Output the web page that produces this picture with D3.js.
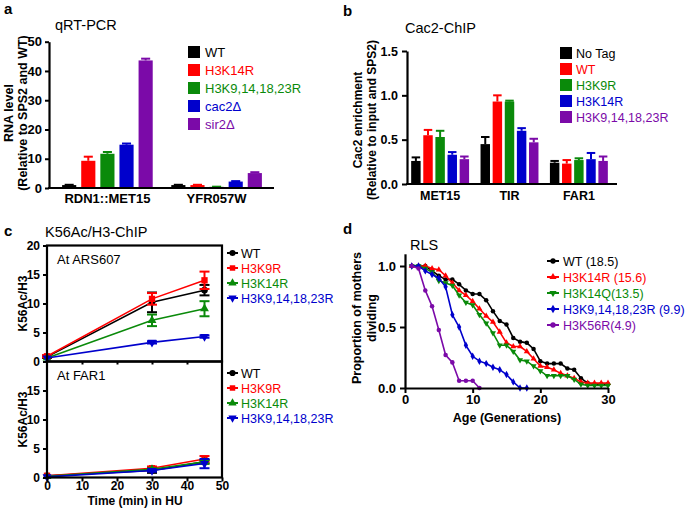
<!DOCTYPE html>
<html><head><meta charset="utf-8">
<script src="https://cdn.jsdelivr.net/npm/d3@7"></script>
<style>
html,body{margin:0;padding:0;background:#fff;}
svg{display:block;font-family:"Liberation Sans",Arial,sans-serif;}
</style></head>
<body>
<svg id="fig" width="685" height="508"></svg>
<script>
// ---------- DATA ----------
// Panel a: qRT-PCR
const aCategories = ["RDN1::MET15", "YFR057W"];
const aSeries = ["WT", "H3K14R", "H3K9,14,18,23R", "cac2\u0394", "sir2\u0394"];
const aValues = [[1.0, 9.3, 11.7, 14.8, 43.6], [1.0, 1.0, 0.4, 2.2, 5.1]];
const aErrors = [[0.1, 1.4, 0.6, 0.4, 0.6], [0.1, 0.1, 0.05, 0.15, 0.3]];
const aTicks = [0, 10, 20, 30, 40, 50];

// Panel b: Cac2-ChIP
const bCategories = ["MET15", "TIR", "FAR1"];
const bSeries = ["No Tag", "WT", "H3K9R", "H3K14R", "H3K9,14,18,23R"];
const bValues = [[0.26, 0.55, 0.53, 0.33, 0.28], [0.45, 0.93, 0.93, 0.60, 0.47], [0.24, 0.23, 0.27, 0.28, 0.26]];
const bErrors = [[0.04, 0.06, 0.07, 0.03, 0.03], [0.08, 0.07, 0.01, 0.03, 0.04], [0.02, 0.04, 0.02, 0.07, 0.05]];
const bTicks = ["0.0", "0.5", "1.0", "1.5"];

// Panel c: K56Ac/H3-ChIP
const cTimes = [0, 30, 45];
const cSeries = ["WT", "H3K9R", "H3K14R", "H3K9,14,18,23R"];
const cARS607 = [[0.8, 10.2, 12.3], [0.9, 10.8, 14.0], [0.6, 7.1, 9.1], [0.6, 3.3, 4.3]];
const cARS607Err = [[0.2, 1.7, 0.9], [0.2, 1.0, 1.5], [0.1, 1.0, 1.3], [0.1, 0.2, 0.2]];
const cFAR1 = [[0.3, 1.2, 2.7], [0.3, 1.6, 3.2], [0.2, 1.4, 2.7], [0.1, 1.2, 2.4]];
const cFAR1Err = [[0.1, 0.4, 0.3], [0.1, 0.3, 0.5], [0.1, 0.2, 0.3], [0.1, 0.2, 0.8]];
const cYTicks = [0, 5, 10, 15, 20];
const cXTicks = [0, 10, 20, 30, 40, 50];

// Panel d: RLS
const dSeries = ["WT (18.5)", "H3K14R (15.6)", "H3K14Q(13.5)", "H3K9,14,18,23R (9.9)", "H3K56R(4.9)"];
const dWT = [1.0,1.0,1.0,0.96,0.92,0.89,0.89,0.85,0.80,0.77,0.77,0.72,0.63,0.55,0.52,0.41,0.38,0.37,0.32,0.22,0.20,0.20,0.20,0.16,0.15,0.08,0.04,0.03,0.03,0.03];
const dK14R = [1.0,1.0,1.0,0.98,0.97,0.92,0.86,0.80,0.76,0.71,0.65,0.59,0.54,0.46,0.37,0.34,0.34,0.30,0.24,0.18,0.17,0.15,0.12,0.10,0.08,0.05,0.04,0.04,0.04,0.04];
const dK14Q = [1.0,1.0,0.98,0.95,0.88,0.86,0.84,0.76,0.70,0.68,0.60,0.53,0.45,0.35,0.35,0.30,0.23,0.22,0.18,0.14,0.10,0.10,0.10,0.10,0.07,0.03,0.02,0.02,0.02,0.02];
const dK4R = [1.0,1.0,0.96,0.93,0.90,0.83,0.60,0.50,0.35,0.26,0.22,0.20,0.17,0.15,0.11,0.05,0.0,0.0];
const dK56R = [1.0,0.98,0.80,0.67,0.475,0.27,0.21,0.06,0.06,0.06,0.0];
const dXTicks = [0, 10, 20, 30];
const dYTicks = ["0.0", "0.5", "1.0"];

// ---------- STYLE ----------
const BLACK = "#000000", RED = "#ff0000", GREEN = "#0a8a0a", BLUE = "#0000cc", PURPLE = "#7b0aa8";
const svg = d3.select("#fig");
const FONT = '"Liberation Sans",Arial,sans-serif';

function axisStyle(g, fs) {
  g.selectAll("path.domain").attr("stroke", "#000").attr("stroke-width", 2.2);
  g.selectAll(".tick line").attr("stroke", "#000").attr("stroke-width", 2);
  g.selectAll(".tick text").attr("font-family", FONT).attr("font-weight", "bold").attr("font-size", fs).attr("fill", "#000");
}
function text(x, y, s, opts = {}) {
  return svg.append("text").attr("x", x).attr("y", y).text(s)
    .attr("font-family", FONT)
    .attr("font-size", opts.size || 13)
    .attr("font-weight", opts.bold ? "bold" : "normal")
    .attr("fill", opts.fill || "#000")
    .attr("text-anchor", opts.anchor || "start")
    .attr("transform", opts.rotate ? `rotate(-90,${x},${y})` : null);
}

// ---------- PANEL A ----------
{
  const colors = [BLACK, RED, GREEN, BLUE, PURPLE];
  const y = d3.scaleLinear().domain([0, 50]).range([188, 41.7]);
  const x0 = d3.scaleBand().domain(aCategories).range([49, 275]).paddingInner(0.17).paddingOuter(0.12);
  const x1 = d3.scaleBand().domain(aSeries).range([0, x0.bandwidth()]).paddingInner(0.26);
  const g = svg.append("g");
  aCategories.forEach((c, ci) => {
    aSeries.forEach((s, si) => {
      const v = aValues[ci][si], e = aErrors[ci][si];
      const bx = x0(c) + x1(s), bw = x1.bandwidth();
      g.append("rect").attr("x", bx).attr("y", y(v)).attr("width", bw).attr("height", y(0) - y(v)).attr("fill", colors[si]);
      const cx = bx + bw / 2;
      g.append("line").attr("x1", cx).attr("x2", cx).attr("y1", y(v)).attr("y2", y(v + e)).attr("stroke", colors[si]).attr("stroke-width", 2);
      g.append("line").attr("x1", cx - bw * 0.32).attr("x2", cx + bw * 0.32).attr("y1", y(v + e)).attr("y2", y(v + e)).attr("stroke", colors[si]).attr("stroke-width", 2);
    });
  });
  svg.append("g").attr("transform", "translate(49,0)")
    .call(d3.axisLeft(y).tickValues(aTicks).tickSize(4).tickPadding(3).tickSizeOuter(0))
    .call(gg => axisStyle(gg, 13));
  svg.append("line").attr("x1", 48).attr("x2", 274).attr("y1", 188).attr("y2", 188).attr("stroke", "#000").attr("stroke-width", 2.2);
  svg.append("g").attr("transform", "translate(0,188)")
    .call(d3.axisBottom(x0).tickSize(0).tickPadding(6))
    .call(gg => { gg.select(".domain").remove(); axisStyle(gg, 13); });
  text(4, 14, "a", { size: 15, bold: true });
  text(55, 30, "qRT-PCR", { size: 14.5 });
  text(12.5, 113, "RNA level", { size: 12.5, bold: true, rotate: true, anchor: "middle" });
  text(26.5, 113, "(Relative to SPS2 and WT)", { size: 12.5, bold: true, rotate: true, anchor: "middle" });
  aSeries.forEach((s, i) => {
    const yy = 52 + i * 18;
    svg.append("rect").attr("x", 188).attr("y", yy - 6).attr("width", 12).attr("height", 12).attr("fill", colors[i]);
    text(205, yy + 4.5, s, { size: 13, fill: colors[i] });
  });
}

// ---------- PANEL B ----------
{
  const colors = [BLACK, RED, GREEN, BLUE, PURPLE];
  const y = d3.scaleLinear().domain([0, 1.5]).range([184, 51]);
  const x0 = d3.scaleBand().domain(bCategories).range([407, 612]).paddingInner(0.165).paddingOuter(0.06);
  const x1 = d3.scaleBand().domain(bSeries).range([0, x0.bandwidth()]).paddingInner(0.22);
  const g = svg.append("g");
  bCategories.forEach((c, ci) => {
    bSeries.forEach((s, si) => {
      const v = bValues[ci][si], e = bErrors[ci][si];
      const bx = x0(c) + x1(s), bw = x1.bandwidth();
      g.append("rect").attr("x", bx).attr("y", y(v)).attr("width", bw).attr("height", y(0) - y(v)).attr("fill", colors[si]);
      const cx = bx + bw / 2;
      g.append("line").attr("x1", cx).attr("x2", cx).attr("y1", y(v)).attr("y2", y(v + e)).attr("stroke", colors[si]).attr("stroke-width", 2);
      g.append("line").attr("x1", cx - bw * 0.45).attr("x2", cx + bw * 0.45).attr("y1", y(v + e)).attr("y2", y(v + e)).attr("stroke", colors[si]).attr("stroke-width", 2);
    });
  });
  svg.append("g").attr("transform", "translate(407,0)")
    .call(d3.axisLeft(y).tickValues(bTicks.map(Number)).tickFormat(d3.format(".1f")).tickSize(5).tickPadding(4).tickSizeOuter(0))
    .call(gg => axisStyle(gg, 12.5));
  svg.append("line").attr("x1", 406).attr("x2", 617).attr("y1", 184).attr("y2", 184).attr("stroke", "#000").attr("stroke-width", 2.2);
  svg.append("g").attr("transform", "translate(0,184)")
    .call(d3.axisBottom(x0).tickSize(0).tickPadding(7))
    .call(gg => { gg.select(".domain").remove(); axisStyle(gg, 12.5); });
  text(343, 16, "b", { size: 15, bold: true });
  text(405, 33, "Cac2-ChIP", { size: 14.5 });
  text(362, 120, "Cac2 enrichment", { size: 12, bold: true, rotate: true, anchor: "middle" });
  text(376, 120, "(Relative to input and SPS2)", { size: 12, bold: true, rotate: true, anchor: "middle" });
  bSeries.forEach((s, i) => {
    const yy = 53 + i * 16;
    svg.append("rect").attr("x", 560).attr("y", yy - 6).attr("width", 12).attr("height", 12).attr("fill", colors[i]);
    text(576, yy + 4.5, s, { size: 12.5, fill: colors[i] });
  });
}

// ---------- PANEL C ----------
{
  const colors = [BLACK, RED, GREEN, BLUE];
  const shapes = [d3.symbolCircle, d3.symbolSquare, d3.symbolTriangle, d3.symbolTriangle];
  const rot = [0, 0, 0, 180];
  const x = d3.scaleLinear().domain([0, 50]).range([47, 222]);
  const panels = [
    { top: 245.5, bottom: 361.5, data: cARS607, err: cARS607Err, label: "At ARS607", leg: 253 },
    { top: 361.5, bottom: 477.5, data: cFAR1, err: cFAR1Err, label: "At FAR1", leg: 373 }
  ];
  panels.forEach((p, pi) => {
    const y = d3.scaleLinear().domain([0, 20]).range([p.bottom, p.top]);
    const g = svg.append("g");
    p.data.forEach((ser, si) => {
      const pts = cTimes.map((t, i) => [t, ser[i], p.err[si][i]]);
      g.append("path").attr("d", d3.line().x(d => x(d[0])).y(d => y(d[1]))(pts))
        .attr("fill", "none").attr("stroke", colors[si]).attr("stroke-width", 1.6);
      pts.forEach(d => {
        if (d[2] > 0.15) {
          const cx = x(d[0]);
          g.append("line").attr("x1", cx).attr("x2", cx).attr("y1", y(d[1] - d[2])).attr("y2", y(d[1] + d[2])).attr("stroke", colors[si]).attr("stroke-width", 2);
          [d[1] - d[2], d[1] + d[2]].forEach(v =>
            g.append("line").attr("x1", cx - 5).attr("x2", cx + 5).attr("y1", y(v)).attr("y2", y(v)).attr("stroke", colors[si]).attr("stroke-width", 2));
        }
        g.append("path").attr("d", d3.symbol().type(shapes[si]).size(si === 1 ? 40 : 34)())
          .attr("transform", `translate(${x(d[0])},${y(d[1])}) rotate(${rot[si]})`).attr("fill", colors[si]);
      });
    });
    svg.append("rect").attr("x", 47).attr("y", p.top).attr("width", 175).attr("height", p.bottom - p.top)
      .attr("fill", "none").attr("stroke", "#000").attr("stroke-width", 2.2);
    const ticks = pi === 0 ? cYTicks : cYTicks.slice(0, 4);
    svg.append("g").attr("transform", "translate(47,0)")
      .call(d3.axisLeft(y).tickValues(ticks).tickSize(4).tickPadding(3).tickSizeOuter(0))
      .call(gg => { gg.select(".domain").remove(); axisStyle(gg, 12); });
    if (pi === 0) {
      svg.append("g").attr("transform", `translate(0,${p.bottom})`)
        .call(d3.axisBottom(x).tickValues(cXTicks.slice(1, 5)).tickSize(3).tickFormat(""))
        .call(gg => { gg.select(".domain").remove(); axisStyle(gg, 12); });
    } else {
      svg.append("g").attr("transform", `translate(0,${p.bottom})`)
        .call(d3.axisBottom(x).tickValues(cXTicks).tickSize(4).tickPadding(0).tickSizeOuter(0))
        .call(gg => { gg.select(".domain").remove(); axisStyle(gg, 12); });
    }
    text(57, p.top + 18, p.label, { size: 13 });
    text(27, (p.top + p.bottom) / 2, "K56Ac/H3", { size: 12, bold: true, rotate: true, anchor: "middle" });
    cSeries.forEach((s, i) => {
      const yy = p.leg + i * 15;
      svg.append("line").attr("x1", 227).attr("x2", 238).attr("y1", yy).attr("y2", yy).attr("stroke", colors[i]).attr("stroke-width", 2);
      svg.append("path").attr("d", d3.symbol().type(shapes[i]).size(30)())
        .attr("transform", `translate(232.5,${yy}) rotate(${rot[i]})`).attr("fill", colors[i]);
      text(241, yy + 4.5, s, { size: 12.5, fill: colors[i] });
    });
  });
  text(4, 236, "c", { size: 15, bold: true });
  text(45, 237, "K56Ac/H3-ChIP", { size: 14.5 });
  text(135, 505, "Time (min) in HU", { size: 12, bold: true, anchor: "middle" });
}

// ---------- PANEL D ----------
{
  const colors = [BLACK, RED, GREEN, BLUE, PURPLE];
  const shapes = [d3.symbolCircle, d3.symbolTriangle, d3.symbolTriangle, d3.symbolDiamond, d3.symbolCircle];
  const rot = [0, 0, 180, 0, 0];
  const series = [dWT, dK14R, dK14Q, dK4R, dK56R];
  const x = d3.scaleLinear().domain([0, 30]).range([405, 608]);
  const y = d3.scaleLinear().domain([0, 1.1]).range([388, 253.8]);
  const g = svg.append("g");
  series.forEach((ser, si) => {
    const pts = ser.map((v, i) => [i + 1, v]);
    g.append("path").attr("d", d3.line().x(d => x(d[0])).y(d => y(d[1]))(pts))
      .attr("fill", "none").attr("stroke", colors[si]).attr("stroke-width", 1.6);
    pts.forEach(d => g.append("path").attr("d", d3.symbol().type(shapes[si]).size(16)())
      .attr("transform", `translate(${x(d[0])},${y(d[1])}) rotate(${rot[si]})`).attr("fill", colors[si]));
  });
  svg.append("g").attr("transform", "translate(405,0)")
    .call(d3.axisLeft(y).tickValues(dYTicks.map(Number)).tickFormat(d3.format(".1f")).tickSize(5).tickPadding(4).tickSizeOuter(0))
    .call(gg => axisStyle(gg, 13));
  svg.append("g").attr("transform", "translate(0,388)")
    .call(d3.axisBottom(x).tickValues(dXTicks).tickSize(5).tickPadding(2).tickSizeOuter(0))
    .call(gg => axisStyle(gg, 13));
  text(343, 234, "d", { size: 15, bold: true });
  text(410, 250, "RLS", { size: 14.5 });
  text(361, 318, "Proportion of mothers", { size: 12.5, bold: true, rotate: true, anchor: "middle" });
  text(376, 318, "dividing", { size: 12.5, bold: true, rotate: true, anchor: "middle" });
  text(507, 422, "Age (Generations)", { size: 12.5, bold: true, anchor: "middle" });
  dSeries.forEach((s, i) => {
    const yy = 261 + i * 16;
    svg.append("line").attr("x1", 547).attr("x2", 559).attr("y1", yy).attr("y2", yy).attr("stroke", colors[i]).attr("stroke-width", 2);
    svg.append("path").attr("d", d3.symbol().type(shapes[i]).size(22)())
      .attr("transform", `translate(553,${yy}) rotate(${rot[i]})`).attr("fill", colors[i]);
    text(563, yy + 4.5, s, { size: 12.5, fill: colors[i] });
  });
}
</script>
</body></html>
